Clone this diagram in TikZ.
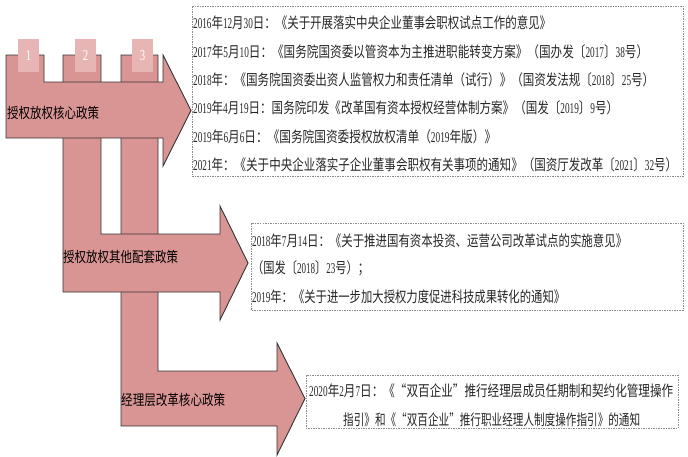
\documentclass[tikz,border=0pt]{standalone}
\usepackage{fontspec}
\newfontfamily\cjkf{Noto Sans CJK SC}[FakeStretch=0.9]
\newfontfamily\latn{Liberation Serif}[FakeStretch=0.72]
\newcommand\nm[1]{{\latn #1}}
\newcommand\fitto[2]{\resizebox{#1pt}{\height}{#2}}
\definecolor{arrowfill}{HTML}{D99594}
\definecolor{tabfill}{HTML}{E8B5B5}
\definecolor{boxline}{HTML}{8C8C8C}
\tikzset{
  arrowshape/.style={fill=arrowfill, draw=black!80, line width=0.9pt, line join=miter},
  tabbox/.style={fill=tabfill, draw=none, minimum width=21pt, minimum height=33pt, inner sep=0pt, text=white, font=\latn\fontsize{15}{15}\selectfont},
  infobox/.style={draw=boxline, dash pattern=on 1.5pt off 1pt, line width=0.6pt},
  infotext/.style={anchor=west, inner sep=0pt, font=\cjkf\fontsize{15}{15}\selectfont, text=black!85},
  armlabel/.style={anchor=west, inner sep=0pt, font=\cjkf\fontsize{14.5}{14.5}\selectfont, text=black}
}
\begin{document}
\begin{tikzpicture}[x=1pt, y=-1pt]
\useasboundingbox (0,0) rectangle (688,456);
% arrow 3 (bottom layer)
\draw[arrowshape] (121,55) -- (158,55) -- (158,371) -- (277,371) -- (277,343) -- (305,398.5) -- (277,455) -- (277,426) -- (121,426) -- cycle;
% arrow 2
\draw[arrowshape] (63,55) -- (101,55) -- (101,234) -- (220,234) -- (220,206) -- (248,263) -- (220,320) -- (220,292) -- (63,292) -- cycle;
% arrow 1 (top layer)
\draw[arrowshape] (6,55) -- (44,55) -- (44,82) -- (163,82) -- (163,55) -- (191,110.5) -- (163,166) -- (163,138) -- (6,138) -- cycle;
% tabs
\node[tabbox] (tab1) at (28.5,55.5) {1};
\node[tabbox] (tab2) at (85.5,55.5) {2};
\node[tabbox] (tab3) at (142.5,55.5) {3};
% arm labels
\node[armlabel] (lab1) at (7,113) {\fitto{92}{授权放权核心政策}};
\node[armlabel] (lab2) at (63,257) {\fitto{115}{授权放权其他配套政策}};
\node[armlabel] (lab3) at (121,400) {\fitto{104}{经理层改革核心政策}};
% boxes
\draw[infobox] (192,6) rectangle (683,176);
\draw[infobox] (251,223) rectangle (683,310);
\draw[infobox] (306,375) rectangle (678,428);
% box 1 text
\node[infotext] (a1) at (193,23) {\fitto{358}{\nm{2016}年\nm{12}月\nm{30}日：《关于开展落实中央企业董事会职权试点工作的意见》}};
\node[infotext] (a2) at (193,51.5) {\fitto{455}{\nm{2017}年\nm{5}月\nm{10}日：《国务院国资委以管资本为主推进职能转变方案》（国办发〔\nm{2017}〕\nm{38}号）}};
\node[infotext] (a3) at (193,80) {\fitto{461}{\nm{2018}年：《国务院国资委出资人监管权力和责任清单（试行）》（国资发法规〔\nm{2018}〕\nm{25}号）}};
\node[infotext] (a4) at (193,108) {\fitto{425}{\nm{2019}年\nm{4}月\nm{19}日：国务院印发《改革国有资本授权经营体制方案》（国发〔\nm{2019}〕\nm{9}号）}};
\node[infotext] (a5) at (193,137) {\fitto{303}{\nm{2019}年\nm{6}月\nm{6}日：《国务院国资委授权放权清单（\nm{2019}年版）》}};
\node[infotext] (a6) at (193,165) {\fitto{484}{\nm{2021}年：《关于中央企业落实子企业董事会职权有关事项的通知》（国资厅发改革〔\nm{2021}〕\nm{32}号）}};
% box 2 text
\node[infotext] (b1) at (252,240.5) {\fitto{375}{\nm{2018}年\nm{7}月\nm{14}日：《关于推进国有资本投资、运营公司改革试点的实施意见》}};
\node[infotext] (b2) at (252,268.5) {\fitto{117}{（国发〔\nm{2018}〕\nm{23}号）；}};
\node[infotext] (b3) at (252,297) {\fitto{313}{\nm{2019}年：《关于进一步加大授权力度促进科技成果转化的通知》}};
% box 3 text
\node[infotext] (c1) at (309,391) {\fitto{364}{\nm{2020}年\nm{2}月\nm{7}日：《“双百企业”推行经理层成员任期制和契约化管理操作}};
\node[infotext] (c2) at (343,420) {\fitto{297}{指引》和《“双百企业”推行职业经理人制度操作指引》的通知}};
\end{tikzpicture}
\end{document}
